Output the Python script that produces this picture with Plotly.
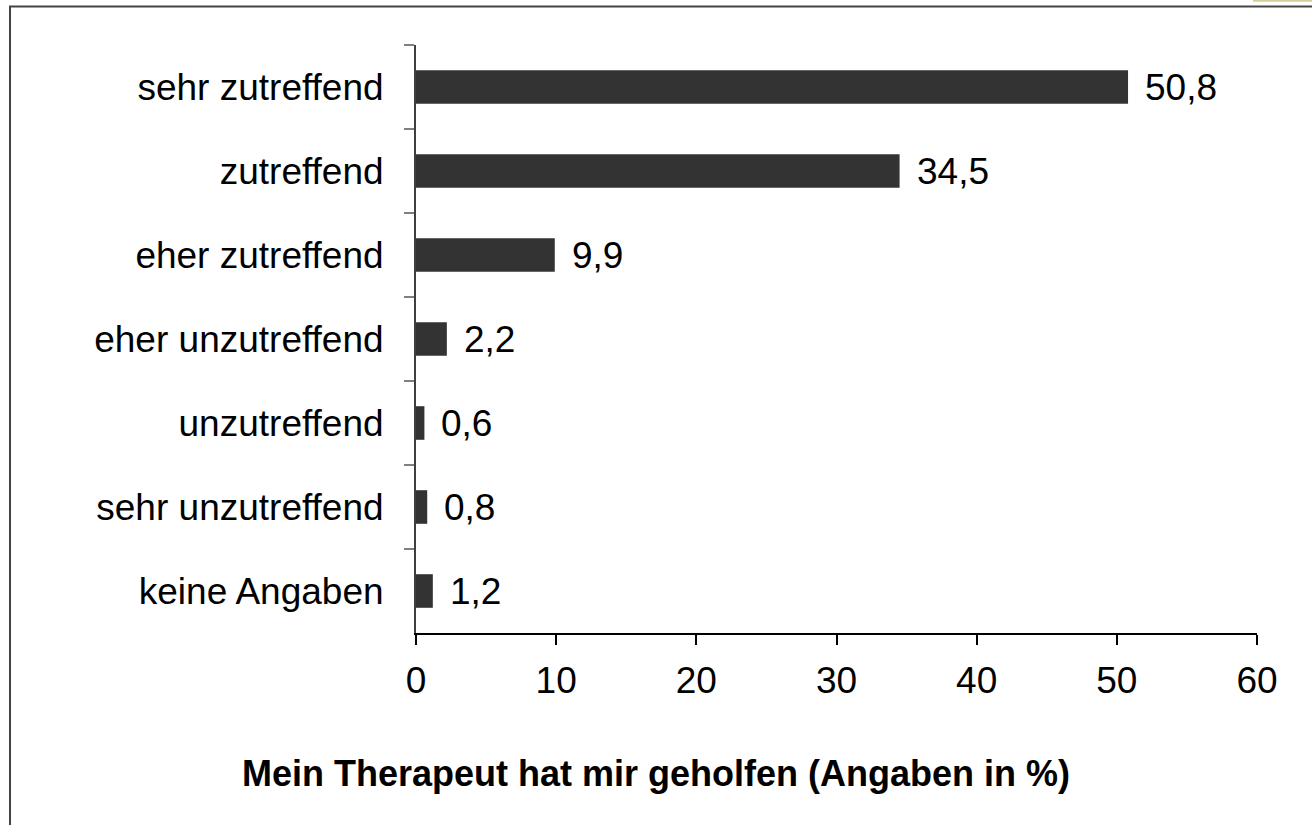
import plotly.graph_objects as go

categories = ["sehr zutreffend", "zutreffend", "eher zutreffend", "eher unzutreffend",
              "unzutreffend", "sehr unzutreffend", "keine Angaben"]
values = [50.8, 34.5, 9.9, 2.2, 0.6, 0.8, 1.2]
value_labels = ["50,8", "34,5", "9,9", "2,2", "0,6", "0,8", "1,2"]
x_ticks = [0, 10, 20, 30, 40, 50, 60]
title_text = "Mein Therapeut hat mir geholfen (Angaben in %)"

FONT = "Liberation Sans, Arial, sans-serif"

fig = go.Figure()
fig.add_trace(go.Bar(
    x=values, y=categories, orientation="h",
    marker=dict(color="#333333", line=dict(width=0)),
    width=0.4, hoverinfo="skip",
))

for v, c, t in zip(values, categories, value_labels):
    fig.add_annotation(x=v, y=c, text=t, xref="x", yref="y",
                       xanchor="left", yanchor="middle", xshift=15, showarrow=False,
                       font=dict(family=FONT, size=37, color="#000000"))

fig.update_layout(
    width=1312, height=825,
    margin=dict(l=416, r=55, t=45, b=192),
    paper_bgcolor="white", plot_bgcolor="white",
    showlegend=False,
    font=dict(family=FONT, size=37, color="#000000"),
    title=dict(text="<b>" + title_text + "</b>", xref="container", yref="container",
               x=656 / 1312, y=(825 - 773) / 825,
               xanchor="center", yanchor="middle",
               font=dict(family=FONT, size=36, color="#000000")),
    xaxis=dict(range=[0, 60], tickvals=x_ticks, ticktext=[str(t) for t in x_ticks],
               showgrid=False, zeroline=False, showline=True, linecolor="#000000",
               linewidth=2, ticks="outside", ticklen=10, tickwidth=1.5, tickcolor="#000000",
               ticklabelstandoff=4, tickfont=dict(family=FONT, size=37, color="#000000")),
    yaxis=dict(categoryorder="array", categoryarray=categories, autorange="reversed",
               showgrid=False, zeroline=False, showline=True, linecolor="#404040",
               linewidth=2, ticks="outside", ticklen=10, tickwidth=2, tickcolor="#808080",
               tickson="boundaries", ticklabelstandoff=23,
               tickfont=dict(family=FONT, size=37, color="#000000")),
)

# outer frame (left and top edges visible)
fig.add_shape(type="rect", xref="paper", yref="paper",
              x0=(10 - 416) / 841, x1=2.0, y0=-2.0, y1=1 + (45 - 6.5) / 588,
              line=dict(color="#444444", width=2), fillcolor="rgba(0,0,0,0)", layer="below")
# small yellow mark at top-right
fig.add_shape(type="line", xref="paper", yref="paper",
              x0=(1253 - 416) / 841, x1=(1315 - 416) / 841,
              y0=1 + (45 - 0.8) / 588, y1=1 + (45 - 0.8) / 588,
              line=dict(color="#d4cf96", width=2))

fig.write_html("out.html", config={"displayModeBar": False},
               post_script="document.body.style.margin='0';")
